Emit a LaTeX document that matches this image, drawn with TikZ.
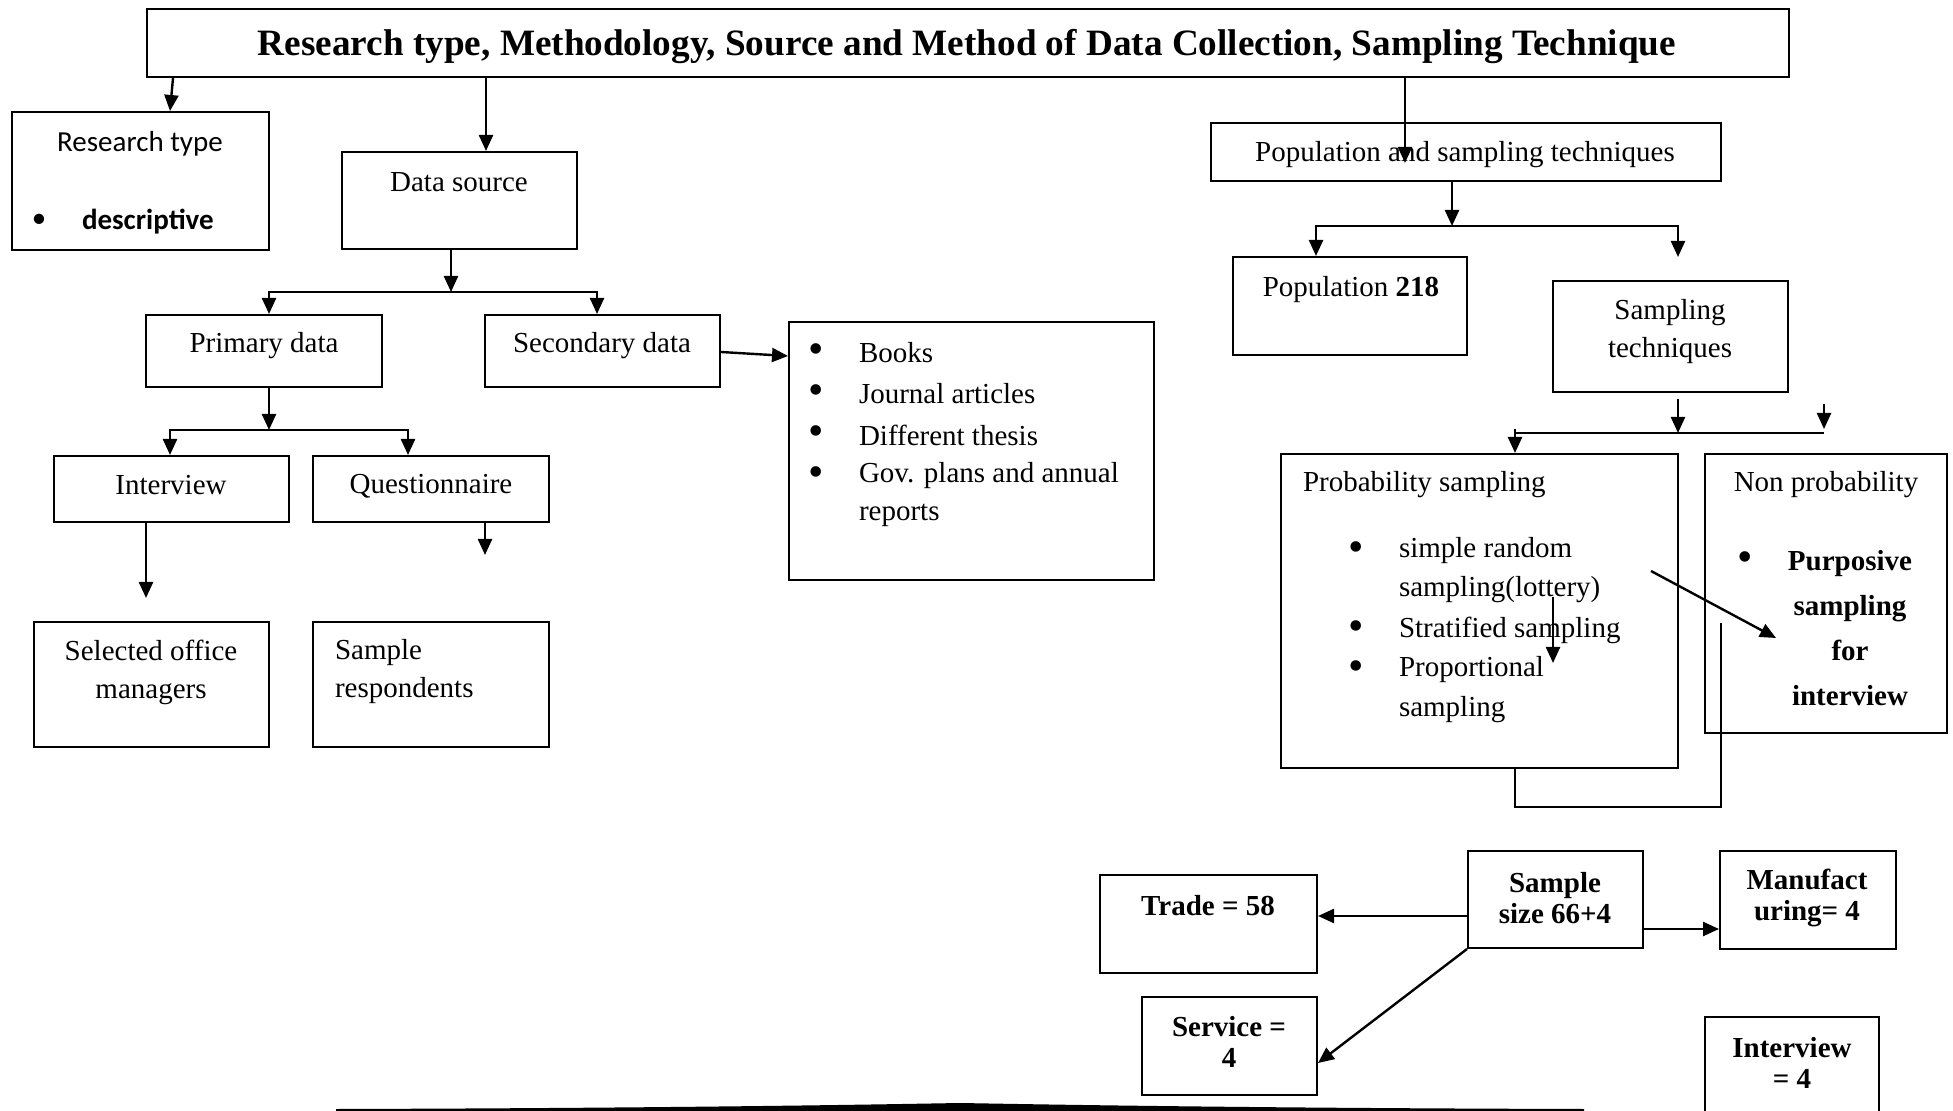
\documentclass[tikz,border=0pt]{standalone}
\usepackage{fontspec}
\setmainfont{Liberation Serif}
\newfontfamily\calibri{Carlito}
\usetikzlibrary{arrows.meta,fit}

\begin{document}
\begin{tikzpicture}[x=0.5pt,y=-0.5pt,line width=1pt,
  box/.style={draw,inner sep=0pt,line width=1pt},
  lbl/.style={inner sep=0pt,font=\fontsize{14.5}{19}\selectfont},
  bld/.style={inner sep=0pt,font=\fontsize{14.5}{15.5}\selectfont\bfseries},
  cal/.style={inner sep=0pt,font=\fontsize{14.5}{19}\selectfont\calibri},
  dot/.style={inner sep=0pt,font=\fontsize{22}{22}\selectfont},
  arr/.style={-{Triangle[length=8pt,width=7pt]},line width=1.2pt}]
  \useasboundingbox (0,0) rectangle (1953,1111);
  \fill[white] (0,0) rectangle (1953,1111);
  \clip (0,0) rectangle (1953,1111);

  % title
  \node[box,fit={(147,9) (1789,77)}] (title) {};
  \node[inner sep=0pt,font=\fontsize{18.6}{22}\selectfont\bfseries] (ttitle) at (967,47) {Research type, Methodology, Source and Method of Data Collection, Sampling Technique};

  % left branch
  \node[box,fit={(12,112) (269,250)}] (rtype) {};
  \node[cal] (trtype) at (140,144) {Research type};
  \node[cal] (bdesc) at (39,221) {•};
  \node[cal,font=\fontsize{14.5}{19}\selectfont\calibri\bfseries,anchor=west] (tdesc) at (81,222) {descriptive};
  \draw[arr] (173,0 |- title.south) -- (170,0 |- rtype.north);

  \node[box,fit={(342,152) (577,249)}] (dsrc) {};
  \node[lbl] (tdsrc) at (459,182) {Data source};
  \draw[arr] (486,0 |- title.south) -- (486,0 |- dsrc.north);

  \coordinate (dsplit) at (451,292);
  \node[box,fit={(146,315) (382,387)}] (prim) {};
  \node[lbl] (tprim) at (264,346) {Primary data};
  \node[box,fit={(485,315) (720,387)}] (sec) {};
  \node[lbl] (tsec) at (602,346) {Secondary data};
  \draw[arr] (451,0 |- dsrc.south) -- (dsplit);
  \draw[arr] (dsplit) -| (269,0 |- prim.north);
  \draw[arr] (dsplit) -| (597,0 |- sec.north);

  \node[box,fit={(789,322) (1154,580)}] (books) {};
  \node[dot] (b1) at (816,354) {•};
  \node[lbl,anchor=west] (tb1) at (858,353) {Books};
  \node[dot] (b2) at (816,395) {•};
  \node[lbl,anchor=west] (tb2) at (858,394) {Journal articles};
  \node[dot] (b3) at (816,436) {•};
  \node[lbl,anchor=west] (tb3) at (858,435) {Different thesis};
  \node[dot] (b4) at (816,477) {•};
  \node[lbl,anchor=west] (tb4) at (858,476) {Gov. plans and annual};
  \node[lbl,anchor=west] (tb5) at (858,515) {reports};
  \draw[arr] (sec.east |- 0,352) -- (books.west |- 0,356);

  \coordinate (psplit) at (269,430);
  \node[box,fit={(54,456) (289,522)}] (intv) {};
  \node[lbl] (tintv) at (171,485) {Interview};
  \node[box,fit={(313,456) (549,522)}] (quest) {};
  \node[lbl] (tquest) at (431,486) {Questionnaire};
  \draw[arr] (269,0 |- prim.south) -- (psplit);
  \draw[arr] (psplit) -| (170,0 |- intv.north);
  \draw[arr] (psplit) -| (408,0 |- quest.north);

  \coordinate (intvend) at (146,598);
  \coordinate (questend) at (485,555);
  \draw[arr] (146,0 |- intv.south) -- (intvend);
  \draw[arr] (485,0 |- quest.south) -- (questend);

  \node[box,fit={(34,622) (269,747)}] (selmgr) {};
  \node[lbl,align=center] (tselmgr) at (151,672) {Selected office\\managers};
  \node[box,fit={(313,622) (549,747)}] (samresp) {};
  \node[lbl,align=left,anchor=west] (tsamresp) at (334,672) {Sample\\respondents};

  % right branch
  \node[box,fit={(1211,123) (1721,181)}] (popst) {};
  \node[lbl] (tpopst) at (1465,155) {Population and sampling techniques};
  \coordinate (popend) at (1405,163);
  \draw[arr] (1405,0 |- title.south) -- (popend);

  \coordinate (stsplit) at (1452,226);
  \coordinate (samend) at (1678,257);
  \node[box,fit={(1233,257) (1467,355)}] (pop) {};
  \node[lbl] (tpop) at (1351,290) {Population \textbf{218}};
  \node[box,fit={(1553,281) (1788,392)}] (samtech) {};
  \node[lbl,align=center] (tsamtech) at (1670,332) {Sampling\\techniques};
  \draw[arr] (1452,0 |- popst.south) -- (stsplit);
  \draw[arr] (stsplit) -| (1316,0 |- pop.north);
  \draw[arr] (stsplit) -| (samend);

  \node[box,fit={(1281,454) (1678,768)}] (prob) {};
  \node[lbl,anchor=west] (tprob) at (1302,485) {Probability sampling};
  \node[dot] (p1) at (1356,552) {•};
  \node[lbl,anchor=west] (tp1) at (1398,551) {simple random};
  \node[lbl,anchor=west] (tp2) at (1398,590) {sampling(lottery)};
  \node[dot] (p3) at (1356,631) {•};
  \node[lbl,anchor=west] (tp3) at (1398,630) {Stratified sampling};
  \node[dot] (p4) at (1356,671) {•};
  \node[lbl,anchor=west] (tp4) at (1398,670) {Proportional};
  \node[lbl,anchor=west] (tp5) at (1398,710) {sampling};

  \node[box,fit={(1705,454) (1947,733)}] (nonprob) {};
  \node[lbl] (tnonprob) at (1826,485) {Non probability};
  \node[dot] (np1) at (1745,562) {•};
  \node[bld,align=center,font=\fontsize{14.5}{22.5}\selectfont\bfseries] (tnp1) at (1850,628) {Purposive\\sampling\\for\\interview};

  \coordinate (probsplit) at (1678,433);
  \coordinate (probtop) at (1678,399);
  \coordinate (nparr) at (1824,404);
  \coordinate (npend) at (1824,429);
  \draw[arr] (probtop) -- (probsplit);
  \draw[arr] (nparr) -- (npend);
  \draw (1515,433) -- (npend |- probsplit);
  \draw[arr] (1515,429) -- (1515,0 |- prob.north);

  \coordinate (pinA) at (1553,597);
  \coordinate (pinB) at (1553,663);
  \draw[arr] (pinA) -- (pinB);
  \coordinate (diagA) at (1651,571);
  \coordinate (diagB) at (1776,638);
  \draw[arr] (diagA) -- (diagB);
  \draw[line width=0.8pt] (1515,0 |- prob.south) -- (1515,807) -| (1721,623);

  % sample size
  \node[box,fit={(1100,875) (1317,973)}] (trade) {};
  \node[bld] (ttrade) at (1208,906) {Trade = 58};
  \node[box,fit={(1468,851) (1643,948)}] (ssize) {};
  \node[bld,align=center] (tssize) at (1555,898) {Sample\\size 66+4};
  \node[box,fit={(1720,851) (1896,949)}] (manuf) {};
  \node[bld,align=center] (tmanuf) at (1807,898) {Manufact\\uring= 4};
  \node[box,fit={(1142,997) (1317,1095)}] (serv) {};
  \node[bld,align=center] (tserv) at (1229,1042) {Service =\\4};
  \node[box,fit={(1705,1017) (1879,1130)}] (intv4) {};
  \node[bld,align=center] (tintv4) at (1792,1063) {Interview\\= 4};

  \draw[arr] (ssize.west |- 0,916) -- (trade.east |- 0,916);
  \draw[arr] (ssize.east |- 0,929) -- (manuf.west |- 0,929);
  \draw[arr] (ssize.south west) -- (serv.east |- 0,1063);

  \fill (336,1111) -- (336,1109) .. controls (700,1108) and (900,1104) .. (960,1103) .. controls (1020,1104) and (1220,1108) .. (1584,1109) -- (1584,1111) -- cycle;
\end{tikzpicture}
\end{document}
